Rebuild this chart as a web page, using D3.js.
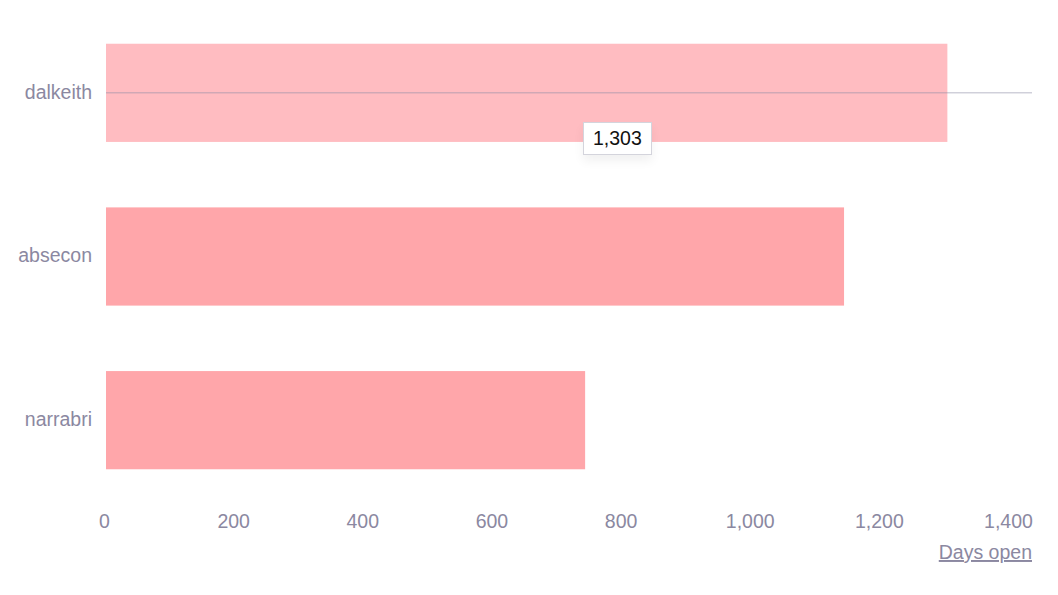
<!doctype html>
<html lang="en">
<head>
<meta charset="UTF-8">
<title>Days open</title>
<script src="https://d3js.org/d3.v7.min.js"></script>
<style>
  body { margin: 0; background: #fff; font-family: "Liberation Sans", Arial, sans-serif; }
  #chart-area { position: relative; width: 1058px; height: 595px; }
  .tip {
    position: absolute; background: #fff; border: 1px solid #d4d4dc;
    font-size: 19.5px; line-height: 23px; color: #111; padding: 4px 9px;
    box-shadow: 0 6px 10px rgba(0,0,0,0.06);
  }
</style>
</head>
<body>
<div id="chart-area"></div>
<script>
const stations = ['dalkeith', 'absecon', 'narrabri'];
const daysOpen = [1303, 1143, 742];
const xTicks = [0, 200, 400, 600, 800, 1000, 1200, 1400];
const hovered = 'dalkeith';

const W = 1058, H = 595;
const textColor = '#8b88a1';
const fs = 19.5;

const svg = d3.select('#chart-area')
    .append('svg')
    .attr('width', W)
    .attr('height', H);

const x = d3.scaleLinear()
    .domain([0, 1400])
    .range([106, 1010]);

const y = d3.scaleBand()
    .domain(stations)
    .range([11, 502])
    .paddingInner(0.4)
    .paddingOuter(0.2);

const data = stations.map((s, i) => ({ name: s, value: daysOpen[i] }));

svg.selectAll('rect.bar')
    .data(data)
    .enter()
    .append('rect')
        .attr('class', 'bar')
        .attr('x', x(0))
        .attr('y', d => y(d.name))
        .attr('width', d => x(d.value) - x(0))
        .attr('height', y.bandwidth())
        .attr('fill', d => d.name === hovered ? '#ffbcc1' : '#ffa6aa');

// category labels
svg.selectAll('text.cat')
    .data(stations)
    .enter()
    .append('text')
        .attr('class', 'cat')
        .attr('x', 92)
        .attr('y', d => y(d) + y.bandwidth() / 2 - 1)
        .attr('dy', '0.35em')
        .attr('text-anchor', 'end')
        .attr('font-size', fs)
        .attr('fill', textColor)
        .text(d => d);

// x axis, labels only
const xAxis = d3.axisBottom(x)
    .tickValues(xTicks)
    .tickFormat(d3.format(','))
    .tickSize(0)
    .tickPadding(0);

const gx = svg.append('g')
    .attr('transform', 'translate(-2,514)')
    .call(xAxis);
gx.select('.domain').remove();
gx.selectAll('text')
    .attr('font-size', fs)
    .attr('font-family', '"Liberation Sans", Arial, sans-serif')
    .attr('fill', textColor)
    .attr('dy', '0.71em');

svg.append('text')
    .attr('x', 1032)
    .attr('y', 559)
    .attr('text-anchor', 'end')
    .attr('font-size', fs)
    .attr('fill', textColor)
    .attr('text-decoration', 'underline')
    .text('Days open');

// hover crosshair
const hy = y(hovered) + y.bandwidth() / 2;
svg.append('line')
    .attr('x1', x(0))
    .attr('x2', 1032)
    .attr('y1', hy)
    .attr('y2', hy)
    .attr('stroke', '#8b88a1')
    .attr('stroke-opacity', 0.6)
    .attr('stroke-width', 1);

// tooltip
const hv = daysOpen[stations.indexOf(hovered)];
d3.select('#chart-area')
    .append('div')
    .attr('class', 'tip')
    .style('left', '583px')
    .style('top', '122px')
    .text(d3.format(',')(hv));
</script>
</body>
</html>
